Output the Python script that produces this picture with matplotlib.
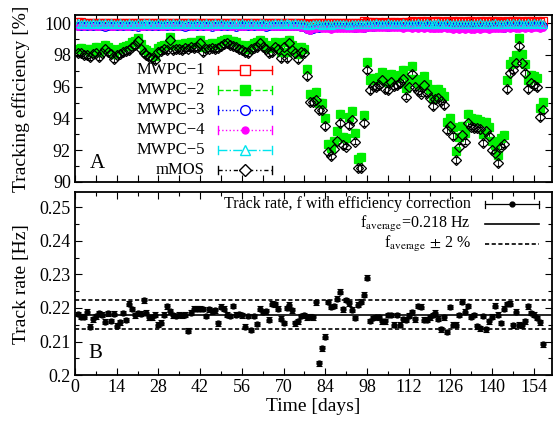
import numpy as np
import matplotlib
matplotlib.use("Agg")
import matplotlib.pyplot as plt
from matplotlib.ticker import MultipleLocator

plt.rcParams['font.family'] = ['Liberation Serif', 'DejaVu Serif']
plt.rcParams['mathtext.fontset'] = 'stix'

# дни измерений
days = np.arange(1, 158)

# эффективность mMOS, %
eff_mmos = [
    98.09, 98.13, 98.00, 97.99, 97.88, 98.05, 98.13, 97.84, 98.10, 98.34, 98.20, 98.05, 97.72, 97.99,
    98.05, 98.20, 98.25, 98.30, 98.51, 98.60, 98.89, 98.40, 98.09, 97.99, 97.88, 97.80, 97.67, 98.20,
    98.25, 98.34, 98.30, 98.93, 98.30, 98.35, 98.40, 98.30, 98.45, 98.40, 98.51, 98.45, 98.50, 98.72,
    98.20, 98.34, 98.40, 98.45, 98.34, 98.45, 98.55, 98.68, 98.76, 98.60, 98.55, 98.51, 98.34, 98.30,
    98.20, 98.09, 98.34, 98.45, 98.51, 98.72, 98.51, 98.34, 98.13, 98.20, 98.51, 98.40, 97.82, 98.51,
    97.82, 98.72, 98.30, 98.13, 97.72, 98.20, 98.09, 96.67, 95.05, 95.05, 95.15, 94.53, 94.50, 93.52,
    91.90, 91.60, 92.06, 92.60, 93.69, 92.33, 92.22, 93.58, 93.90, 92.54, 90.86, 90.86, 93.69, 97.04,
    95.79, 96.04, 95.97, 96.10, 96.42, 95.85, 95.79, 96.30, 96.04, 96.10, 96.23, 96.50, 95.37, 95.97,
    96.79, 95.97, 95.70, 95.56, 96.10, 95.60, 95.30, 94.78, 95.25, 95.30, 95.10, 94.83, 93.27, 93.52,
    92.90, 91.38, 92.22, 92.95, 92.54, 93.69, 93.48, 93.38, 93.38, 93.30, 92.43, 93.22, 92.90, 92.00,
    91.80, 91.17, 92.22, 92.38, 95.83, 96.84, 97.04, 97.46, 98.55, 97.50, 96.84, 95.83, 96.20, 96.10,
    95.97, 94.07, 94.53]

# эффективность MWPC-2, %
eff_mwpc2 = [
    98.40, 98.45, 98.30, 98.35, 98.20, 98.40, 98.50, 98.15, 98.40, 98.60, 98.50, 98.35, 98.05, 98.30,
    98.35, 98.50, 98.55, 98.60, 98.80, 98.85, 99.05, 98.70, 98.40, 98.30, 98.15, 98.10, 97.95, 98.45,
    98.55, 98.60, 98.60, 99.10, 98.60, 98.65, 98.70, 98.60, 98.75, 98.70, 98.80, 98.75, 98.80, 98.95,
    98.50, 98.65, 98.70, 98.75, 98.65, 98.75, 98.85, 98.95, 99.00, 98.90, 98.85, 98.80, 98.65, 98.60,
    98.50, 98.40, 98.65, 98.75, 98.80, 98.95, 98.80, 98.65, 98.45, 98.50, 98.80, 98.70, 98.15, 98.80,
    98.15, 98.95, 98.60, 98.45, 98.05, 98.50, 98.40, 97.10, 95.55, 95.50, 95.65, 95.00, 94.95, 94.00,
    92.40, 92.15, 92.60, 93.20, 94.25, 92.85, 92.75, 94.10, 94.45, 93.10, 91.45, 91.55, 94.20, 97.55,
    96.40, 96.55, 96.50, 96.60, 96.90, 96.40, 96.30, 96.80, 96.55, 96.60, 96.75, 97.05, 95.90, 96.50,
    97.30, 96.50, 96.25, 96.10, 96.65, 96.15, 95.85, 95.30, 95.80, 95.85, 95.65, 95.40, 93.80, 94.05,
    93.45, 91.95, 92.80, 93.50, 93.10, 94.25, 94.05, 93.95, 93.95, 93.85, 93.00, 93.75, 93.45, 92.55,
    92.35, 91.70, 92.75, 92.95, 96.40, 97.40, 97.60, 98.00, 99.05, 98.05, 97.40, 96.40, 96.75, 96.65,
    96.55, 94.65, 95.05]

# эффективность MWPC-1, %
eff_mwpc1 = [
    100.05, 100.08, 100.03, 100.02, 100.00, 100.01, 99.99, 100.00, 100.02, 100.01, 99.99, 100.00, 100.01, 99.98,
    100.00, 99.99, 100.02, 100.00, 99.98, 100.01, 100.02, 100.00, 99.99, 100.01, 99.98, 100.00, 100.01, 99.99,
    100.02, 100.00, 99.98, 100.02, 100.01, 99.99, 100.00, 100.02, 99.98, 100.01, 100.00, 100.02, 99.99, 100.01,
    100.00, 99.98, 100.02, 100.01, 99.99, 100.02, 100.00, 100.01, 99.98, 100.02, 100.00, 99.99, 100.01, 100.02,
    99.99, 100.00, 100.02, 99.98, 100.01, 100.00, 100.02, 99.99, 100.01, 100.00, 99.98, 100.02, 100.00, 100.01,
    99.99, 100.02, 100.00, 100.01, 99.98, 100.02, 100.00, 99.97, 99.95, 99.99, 100.01, 100.00, 99.98, 100.02,
    100.00, 99.99, 100.01, 100.02, 100.00, 99.98, 100.01, 99.99, 100.02, 100.00, 100.01, 99.98, 100.15, 100.10,
    100.04, 100.06, 100.03, 100.05, 100.02, 100.04, 100.03, 100.06, 100.04, 100.02, 100.05, 100.03, 100.08, 100.10,
    100.12, 100.10, 100.08, 100.11, 100.09, 100.12, 100.10, 100.08, 100.11, 100.13, 100.10, 100.09, 100.12, 100.10,
    100.11, 100.08, 100.12, 100.10, 100.09, 100.13, 100.11, 100.10, 100.08, 100.12, 100.10, 100.11, 100.09, 100.12,
    100.10, 100.13, 100.02, 100.06, 100.12, 100.10, 100.14, 100.11, 100.09, 100.12, 100.10, 100.13, 100.11, 100.10,
    100.12, 100.09, 100.11]

# эффективность MWPC-3, %
eff_mwpc3 = [
    99.82, 99.80, 99.84, 99.79, 99.83, 99.81, 99.85, 99.80, 99.82, 99.78, 99.83, 99.81, 99.84, 99.80,
    99.82, 99.79, 99.83, 99.80, 99.84, 99.81, 99.78, 99.82, 99.80, 99.83, 99.79, 99.81, 99.84, 99.80,
    99.83, 99.81, 99.79, 99.84, 99.80, 99.82, 99.85, 99.81, 99.78, 99.83, 99.80, 99.82, 99.79, 99.84,
    99.81, 99.83, 99.80, 99.78, 99.82, 99.84, 99.81, 99.79, 99.83, 99.80, 99.82, 99.78, 99.81, 99.84,
    99.80, 99.82, 99.79, 99.83, 99.81, 99.84, 99.80, 99.78, 99.82, 99.81, 99.83, 99.79, 99.82, 99.80,
    99.83, 99.81, 99.79, 99.82, 99.80, 99.78, 99.74, 99.62, 99.55, 99.66, 99.72, 99.70, 99.75, 99.73,
    99.76, 99.72, 99.74, 99.77, 99.73, 99.75, 99.78, 99.74, 99.76, 99.72, 99.75, 99.73, 99.68, 99.77,
    99.80, 99.78, 99.81, 99.79, 99.82, 99.80, 99.78, 99.81, 99.79, 99.83, 99.80, 99.78, 99.82, 99.79,
    99.81, 99.79, 99.82, 99.80, 99.78, 99.81, 99.79, 99.76, 99.80, 99.77, 99.79, 99.81, 99.78, 99.80,
    99.77, 99.79, 99.76, 99.78, 99.75, 99.77, 99.79, 99.76, 99.74, 99.78, 99.76, 99.79, 99.77, 99.75,
    99.78, 99.80, 99.77, 99.72, 99.79, 99.81, 99.78, 99.80, 99.82, 99.79, 99.81, 99.78, 99.80, 99.82,
    99.79, 99.81, 99.80]

# эффективность MWPC-4, %
eff_mwpc4 = [
    99.78, 99.80, 99.76, 99.79, 99.77, 99.81, 99.78, 99.75, 99.79, 99.77, 99.80, 99.76, 99.78, 99.79,
    99.77, 99.80, 99.76, 99.78, 99.81, 99.77, 99.79, 99.75, 99.78, 99.80, 99.76, 99.79, 99.77, 99.80,
    99.78, 99.76, 99.80, 99.77, 99.79, 99.75, 99.78, 99.81, 99.77, 99.79, 99.76, 99.78, 99.80, 99.77,
    99.79, 99.76, 99.78, 99.80, 99.77, 99.75, 99.79, 99.77, 99.80, 99.76, 99.78, 99.79, 99.77, 99.75,
    99.78, 99.80, 99.76, 99.79, 99.77, 99.74, 99.78, 99.76, 99.79, 99.77, 99.75, 99.78, 99.76, 99.74,
    99.77, 99.75, 99.73, 99.76, 99.74, 99.72, 99.70, 99.58, 99.52, 99.60, 99.66, 99.68, 99.64, 99.62,
    99.60, 99.58, 99.62, 99.65, 99.61, 99.63, 99.66, 99.62, 99.64, 99.60, 99.63, 99.66, 99.62, 99.68,
    99.70, 99.68, 99.72, 99.69, 99.71, 99.67, 99.70, 99.72, 99.68, 99.71, 99.69, 99.66, 99.70, 99.68,
    99.66, 99.69, 99.64, 99.67, 99.65, 99.68, 99.63, 99.66, 99.64, 99.62, 99.65, 99.67, 99.63, 99.60,
    99.58, 99.62, 99.56, 99.60, 99.57, 99.61, 99.55, 99.59, 99.62, 99.58, 99.60, 99.63, 99.59, 99.61,
    99.64, 99.62, 99.66, 99.63, 99.67, 99.65, 99.68, 99.66, 99.64, 99.67, 99.65, 99.68, 99.66, 99.69,
    99.67, 99.65, 99.68]

# эффективность MWPC-5, %
eff_mwpc5 = [
    99.98, 99.95, 100.00, 99.97, 99.93, 99.99, 99.96, 100.01, 99.95, 99.98, 99.94, 100.00, 99.97, 99.95,
    99.99, 99.96, 99.93, 100.00, 99.97, 99.95, 99.98, 99.94, 100.01, 99.96, 99.99, 99.95, 99.97, 100.00,
    99.96, 99.94, 99.99, 99.97, 100.00, 99.95, 99.98, 99.93, 99.97, 100.01, 99.96, 99.94, 99.99, 99.97,
    99.95, 100.00, 99.97, 99.94, 99.98, 99.96, 100.01, 99.95, 99.97, 99.99, 99.94, 99.98, 99.96, 100.00,
    99.97, 99.95, 99.99, 99.96, 99.93, 99.98, 100.00, 99.95, 99.97, 99.94, 99.99, 99.96, 99.98, 99.95,
    100.00, 99.96, 99.94, 99.98, 99.97, 99.95, 99.92, 99.88, 99.90, 99.93, 99.96, 99.94, 99.91, 99.95,
    99.93, 99.90, 99.94, 99.92, 99.96, 99.93, 99.95, 99.91, 99.94, 99.96, 99.92, 99.95, 99.97, 99.94,
    99.96, 99.93, 99.98, 99.95, 99.97, 99.94, 99.99, 99.96, 99.93, 99.97, 99.95, 99.98, 99.96, 99.94,
    99.97, 99.95, 99.99, 99.96, 99.93, 99.98, 99.95, 99.97, 99.94, 99.99, 99.96, 99.95, 99.98, 99.96,
    99.94, 99.97, 99.95, 99.92, 99.96, 99.94, 99.97, 99.93, 99.95, 99.98, 99.96, 99.94, 99.97, 99.95,
    99.98, 99.96, 99.93, 99.97, 99.99, 99.95, 99.98, 99.96, 100.00, 99.97, 99.95, 99.99, 99.96, 99.98,
    99.97, 99.99, 99.96]

# частота треков с поправкой на эффективность, Гц
rate = [
    0.2182, 0.2174, 0.2174, 0.2189, 0.2144, 0.2166, 0.2175, 0.2184, 0.2180, 0.2159, 0.2184, 0.2161, 0.2183, 0.2147,
    0.2157, 0.2185, 0.2164, 0.2213, 0.2197, 0.2178, 0.2184, 0.2183, 0.2223, 0.2186, 0.2172, 0.2172, 0.2180, 0.2150,
    0.2156, 0.2180, 0.2205, 0.2190, 0.2178, 0.2176, 0.2180, 0.2178, 0.2180, 0.2132, 0.2186, 0.2198, 0.2198, 0.2198,
    0.2197, 0.2176, 0.2196, 0.2190, 0.2193, 0.2154, 0.2204, 0.2198, 0.2180, 0.2176, 0.2206, 0.2180, 0.2182, 0.2178,
    0.2144, 0.2176, 0.2134, 0.2176, 0.2152, 0.2198, 0.2188, 0.2190, 0.2165, 0.2213, 0.2211, 0.2198, 0.2168, 0.2155,
    0.2200, 0.2210, 0.2193, 0.2154, 0.2160, 0.2176, 0.2178, 0.2172, 0.2174, 0.2172, 0.2217, 0.2035, 0.2080, 0.2114,
    0.2218, 0.2203, 0.2206, 0.2228, 0.2248, 0.2196, 0.2224, 0.2214, 0.2195, 0.2170, 0.2210, 0.2219, 0.2240, 0.2290,
    0.2161, 0.2170, 0.2173, 0.2172, 0.2160, 0.2160, 0.2179, 0.2179, 0.2150, 0.2179, 0.2150, 0.2166, 0.2165, 0.2177,
    0.2187, 0.2166, 0.2206, 0.2204, 0.2165, 0.2165, 0.2172, 0.2179, 0.2186, 0.2168, 0.2136, 0.2172, 0.2128, 0.2203,
    0.2150, 0.2150, 0.2179, 0.2219, 0.2189, 0.2206, 0.2174, 0.2179, 0.2145, 0.2139, 0.2176, 0.2136, 0.2160, 0.2174,
    0.2207, 0.2180, 0.2155, 0.2198, 0.2212, 0.2213, 0.2148, 0.2189, 0.2150, 0.2148, 0.2160, 0.2205, 0.2185, 0.2180,
    0.2170, 0.2157, 0.2092]

f_avg = 0.218
err_mmos = 0.18
err_mwpc2 = 0.25
err_mwpc = 0.04
err_rate = 0.0007

fig = plt.figure(figsize=(5.53, 4.22), dpi=100)
ax1 = fig.add_axes([0.1356, 0.569, 0.862, 0.395])
ax2 = fig.add_axes([0.1356, 0.111, 0.862, 0.434])

# верхний график: эффективность
series = [
    ("MWPC\u22121", eff_mwpc1, err_mwpc, "#ff0000", "s", "none", "-"),
    ("MWPC\u22122", eff_mwpc2, err_mwpc2, "#00ee00", "s", "#00ee00", "--"),
    ("MWPC\u22123", eff_mwpc3, err_mwpc, "#0000ff", "o", "none", ":"),
    ("MWPC\u22124", eff_mwpc4, err_mwpc, "#ff00ff", "o", "#ff00ff", ":"),
    ("MWPC\u22125", eff_mwpc5, err_mwpc, "#00e5ee", "^", "none", "-."),
    ("mMOS", eff_mmos, err_mmos, "black", "D", "none", (0, (3, 2, 1, 2, 1, 2))),
]
for name, vals, err, col, mk, fc, ls in series:
    ms = 5.5
    if mk == "D":
        ms = 5
    if name == "MWPC\u22124":
        ms = 4
    ax1.errorbar(days, vals, yerr=err, fmt=mk, color=col, mfc=fc, mec=col,
                 ms=ms, mew=0.9, elinewidth=0.6, capsize=1.5, capthick=0.6)

# легенда вручную, в стиле gnuplot
ys = [0.671, 0.551, 0.431, 0.311, 0.192, 0.072]
for (name, vals, err, col, mk, fc, ls), y in zip(series, ys):
    ax1.text(0.2725, y, name, transform=ax1.transAxes, ha="right", va="center", fontsize=12)
    ax1.plot([0.30, 0.413], [y, y], transform=ax1.transAxes, color=col, ls=ls, lw=1)
    for xc in (0.30, 0.413):
        ax1.plot([xc, xc], [y - 0.025, y + 0.025], transform=ax1.transAxes, color=col, lw=1)
    ms = 7 if mk != "D" else 6
    if name == "MWPC\u22124":
        ms = 5
    ax1.plot([0.3565], [y], transform=ax1.transAxes, marker=mk, color=col,
             mfc=fc if fc != "none" else "white", mec=col, ms=ms, mew=1)
ax1.text(0.046, 0.11, "A", transform=ax1.transAxes, ha="center", va="center", fontsize=15)

ax1.set_xlim(0, 160)
ax1.set_ylim(90, 100.5)
ax1.set_ylabel("Tracking efficiency [%]", fontsize=14)
ax1.yaxis.set_label_coords(-0.095, 0.5)
ax1.yaxis.set_major_locator(MultipleLocator(2))
ax1.yaxis.set_minor_locator(MultipleLocator(1))
ax1.xaxis.set_major_locator(MultipleLocator(7))
ax1.tick_params(labelbottom=False)

# нижний график: частота
ax2.errorbar(days, rate, yerr=err_rate, fmt="o", color="black", ms=3.5,
             elinewidth=0.8, capsize=2.5, capthick=0.8)
ax2.axhline(f_avg, color="black", lw=1.2)
ax2.axhline(f_avg * 1.02, color="black", lw=1.2, ls=(0, (2.5, 1.5)))
ax2.axhline(f_avg * 0.98, color="black", lw=1.2, ls=(0, (2.5, 1.5)))

leg_y = [0.932, 0.828, 0.716]
leg_txt = ["Track rate, f with efficiency correction",
           r"f$_{\mathrm{average}}$=0.218 Hz",
           r"f$_{\mathrm{average}}$ $\pm$ 2 %"]
for t, y in zip(leg_txt, leg_y):
    ax2.text(0.830, y, t, transform=ax2.transAxes, ha="right", va="center", fontsize=11.5)
ax2.plot([0.86, 0.973], [leg_y[0]] * 2, transform=ax2.transAxes, color="black", lw=0.9)
for xc in (0.86, 0.973):
    ax2.plot([xc, xc], [leg_y[0] - 0.02, leg_y[0] + 0.02], transform=ax2.transAxes, color="black", lw=0.9)
ax2.plot([0.9165], [leg_y[0]], transform=ax2.transAxes, marker="o", color="black", ms=3.5)
ax2.plot([0.86, 0.973], [leg_y[1]] * 2, transform=ax2.transAxes, color="black", lw=1.2)
ax2.plot([0.86, 0.973], [leg_y[2]] * 2, transform=ax2.transAxes, color="black", lw=1.2, ls=(0, (2.5, 1.5)))
ax2.text(0.042, 0.12, "B", transform=ax2.transAxes, ha="center", va="center", fontsize=15)

ax2.set_xlim(0, 160)
ax2.set_ylim(0.2, 0.2545)
ax2.set_xlabel("Time [days]", fontsize=14, labelpad=1)
ax2.set_ylabel("Track rate [Hz]", fontsize=14)
ax2.yaxis.set_label_coords(-0.095, 0.5)
ax2.set_xticks(np.arange(0, 155, 14))
ax2.xaxis.set_minor_locator(MultipleLocator(7))
ax2.yaxis.set_major_locator(MultipleLocator(0.01))
ax2.yaxis.set_minor_locator(MultipleLocator(0.005))
ax2.yaxis.set_major_formatter(plt.FuncFormatter(lambda v, p: "0.2" if abs(v - 0.2) < 1e-9 else f"{v:.2f}"))

for ax in (ax1, ax2):
    for s in ax.spines.values():
        s.set_linewidth(1.3)
    ax.tick_params(which="both", direction="in", top=True, right=True, labelsize=13, pad=3)
    ax.tick_params(which="major", length=5, width=0.8)
    ax.tick_params(which="minor", length=3, width=0.8)

fig.savefig("out.png", dpi=100)
